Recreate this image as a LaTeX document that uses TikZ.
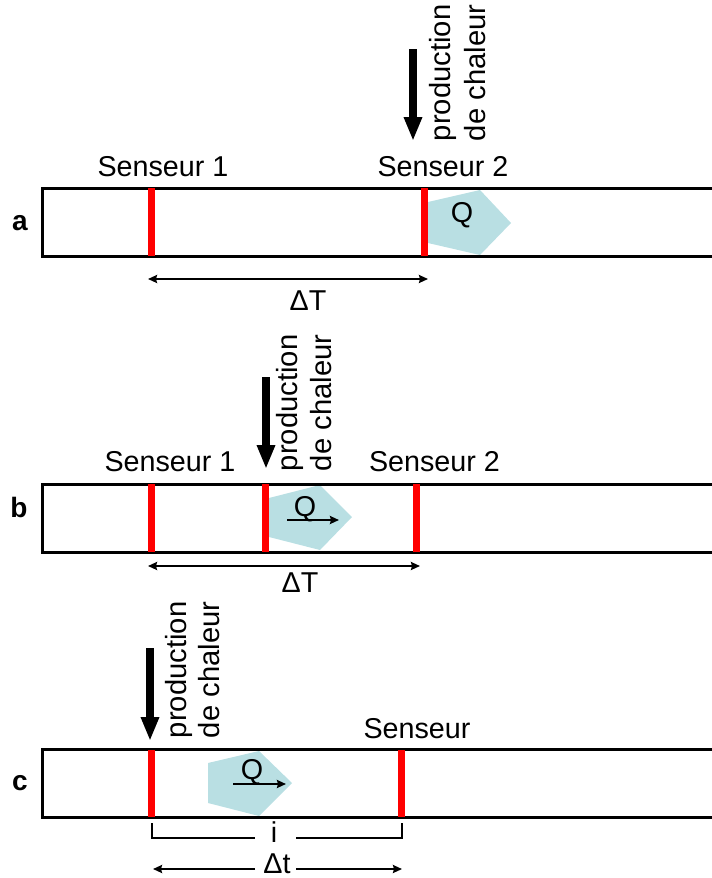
\documentclass[tikz,border=0pt]{standalone}
\usepackage{fontspec}
\setmainfont{Liberation Sans}
\usetikzlibrary{arrows.meta}
\definecolor{heat}{HTML}{B9DFE3}
\tikzset{
  lbl/.style={inner sep=0pt,outer sep=0pt,anchor=base,font=\fontsize{28.7}{32}\selectfont},
  rowlbl/.style={inner sep=0pt,outer sep=0pt,anchor=base,font=\fontsize{28}{32}\selectfont\bfseries},
  vlbl/.style={inner sep=0pt,outer sep=0pt,anchor=base west,rotate=90,font=\fontsize{29.2}{32}\selectfont},
  channel/.style={line width=3pt,miter limit=10},
  sensor/.style={line width=7pt,draw=red},
  pulse/.style={fill=heat,draw=none},
  bigarrow/.style={line width=8pt,-{Triangle[length=24pt,width=17pt]}},
  span/.style={line width=2.2pt,{Stealth[length=9pt,width=8pt,inset=1pt]}-{Stealth[length=9pt,width=8pt,inset=1pt]}},
  flow/.style={line width=2.2pt,-{Stealth[length=9pt,width=8pt,inset=1pt]}},
  halfspan/.style={line width=2.2pt,-{Stealth[length=9pt,width=8pt,inset=1pt]}},
  bracket/.style={line width=2.2pt},
}
\begin{document}
\begin{tikzpicture}[x=1pt,y=-1pt]
\useasboundingbox (0,0) rectangle (712,878);
% row a
\fill[pulse] (428,202) -- (480,190) -- (511,223) -- (480,255) -- (428,243) -- cycle;
\draw[channel] (712,188) -- (42,188) -- (42,256) -- (712,256);
\coordinate (a1t) at (151,188); \coordinate (a1b) at (151,256);
\coordinate (a2t) at (424,188); \coordinate (a2b) at (424,256);
\draw[sensor] (a1t) -- (a1b);
\draw[sensor] (a2t) -- (a2b);
\node[lbl] (as1) at (163,176) {Senseur 1};
\node[lbl] (as2) at (443,176) {Senseur 2};
\node[lbl] (aq) at (462,222) {Q};
\node[rowlbl] (al) at (20,230) {a};
\node[vlbl] (ap1) at (450,141) {production};
\node[vlbl] (ap2) at (485,141) {de chaleur};
\coordinate (aat) at (413,49); \coordinate (aab) at (413,141);
\draw[bigarrow] (aat) -- (aab);
\coordinate (ad1) at (148,279); \coordinate (ad2) at (428,279);
\draw[span] (ad1) -- (ad2);
\node[lbl] (adt) at (308,310) {ΔT};
% row b
\fill[pulse] (269,498) -- (320,485) -- (352,517) -- (320,550) -- (269,537) -- cycle;
\draw[channel] (712,484) -- (42,484) -- (42,552) -- (712,552);
\coordinate (b1t) at (151,484); \coordinate (b1b) at (151,552);
\coordinate (b2t) at (265,484); \coordinate (b2b) at (265,552);
\coordinate (b3t) at (416,484); \coordinate (b3b) at (416,552);
\draw[sensor] (b1t) -- (b1b);
\draw[sensor] (b2t) -- (b2b);
\draw[sensor] (b3t) -- (b3b);
\node[lbl] (bs1) at (170,471) {Senseur 1};
\node[lbl] (bs2) at (434.5,471) {Senseur 2};
\node[lbl] (bq) at (305,516) {Q};
\node[rowlbl] (bl) at (19,517) {b};
\node[vlbl] (bp1) at (297,471) {production};
\node[vlbl] (bp2) at (331,471) {de chaleur};
\coordinate (bat) at (266,377); \coordinate (bab) at (266,469);
\draw[bigarrow] (bat) -- (bab);
\coordinate (bf1) at (287,520); \coordinate (bf2) at (339,520);
\draw[flow] (bf1) -- (bf2);
\coordinate (bd1) at (148,566); \coordinate (bd2) at (420,566);
\draw[span] (bd1) -- (bd2);
\node[lbl] (bdt) at (300,592) {ΔT};
% row c
\fill[pulse] (208,763) -- (259,751) -- (292,783) -- (259,816) -- (208,803) -- cycle;
\draw[channel] (712,749.5) -- (42,749.5) -- (42,817.5) -- (712,817.5);
\coordinate (c1t) at (151.5,750); \coordinate (c1b) at (151.5,817);
\coordinate (c2t) at (401.5,750); \coordinate (c2b) at (401.5,817);
\draw[sensor] (c1t) -- (c1b);
\draw[sensor] (c2t) -- (c2b);
\node[lbl] (cs) at (417,738) {Senseur};
\node[lbl] (cq) at (252,779) {Q};
\node[rowlbl] (cl) at (20,790) {c};
\node[vlbl] (cp1) at (186,738) {production};
\node[vlbl] (cp2) at (219,738) {de chaleur};
\coordinate (cat) at (150,648); \coordinate (cab) at (150,741);
\draw[bigarrow] (cat) -- (cab);
\coordinate (cf1) at (233,784); \coordinate (cf2) at (286,784);
\draw[flow] (cf1) -- (cf2);
\node[lbl] (ci) at (274,842) {i};
\node[lbl] (cdt) at (277,873) {Δt};
\coordinate (ci1) at (152,823); \coordinate (ci1b) at (152,838); \coordinate (ci1e) at (255,838);
\coordinate (ci2) at (402,823); \coordinate (ci2b) at (402,838); \coordinate (ci2e) at (296,838);
\draw[bracket] (ci1) -- (ci1b) -- (ci1e);
\draw[bracket] (ci2) -- (ci2b) -- (ci2e);
\coordinate (ch1s) at (255,869); \coordinate (ch1e) at (153,869);
\coordinate (ch2s) at (296,869); \coordinate (ch2e) at (402,869);
\draw[halfspan] (ch1s) -- (ch1e);
\draw[halfspan] (ch2s) -- (ch2e);
\end{tikzpicture}
\end{document}
